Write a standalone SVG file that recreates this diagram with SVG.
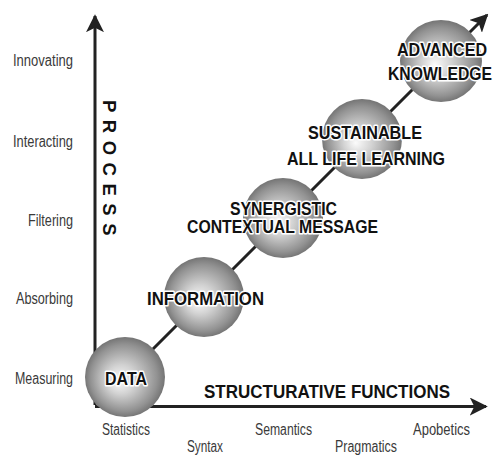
<svg xmlns="http://www.w3.org/2000/svg" width="495" height="455" viewBox="0 0 495 455">
<style>
.ax{stroke:#222;stroke-width:3;fill:none}
.lbl{font-family:"Liberation Sans",Arial,sans-serif;font-size:16px;fill:#3a3a3a}
.nt{font-family:"Liberation Sans",Arial,sans-serif;font-weight:bold;font-size:18.5px;fill:#111;stroke:#fff;stroke-width:3;paint-order:stroke;stroke-linejoin:round}
.ttl{font-family:"Liberation Sans",Arial,sans-serif;font-weight:bold;font-size:18.5px;fill:#111}
.sph{fill:url(#g)}
</style>
<defs>
<radialGradient id="g" cx="50%" cy="50%" r="52%" fx="42%" fy="55%">
<stop offset="0" stop-color="#fbfbfb"/>
<stop offset="0.35" stop-color="#d2d2d2"/>
<stop offset="0.8" stop-color="#929292"/>
<stop offset="1" stop-color="#6e6e6e"/>
</radialGradient>
<marker id="ah" viewBox="0 0 10 10" refX="9" refY="5" markerWidth="6" markerHeight="6" markerUnits="strokeWidth" orient="auto">
<path d="M0,0 L10,5 L0,10 L2.5,5 Z" fill="#222"/>
</marker>
</defs>
<g id="connectors">
<line class="ax" x1="95" y1="405" x2="95" y2="16" marker-end="url(#ah)"/>
<line class="ax" x1="95" y1="406.5" x2="486" y2="406.5" marker-end="url(#ah)"/>
<line class="ax" x1="125" y1="377" x2="487" y2="15" marker-end="url(#ah)"/>
</g>
<g id="axis-labels">
<text class="lbl" x="13" y="66" textLength="60" lengthAdjust="spacingAndGlyphs">Innovating</text>
<text class="lbl" x="13" y="147" textLength="60" lengthAdjust="spacingAndGlyphs">Interacting</text>
<text class="lbl" x="28" y="226" textLength="45" lengthAdjust="spacingAndGlyphs">Filtering</text>
<text class="lbl" x="16" y="304" textLength="57" lengthAdjust="spacingAndGlyphs">Absorbing</text>
<text class="lbl" x="15" y="384" textLength="58" lengthAdjust="spacingAndGlyphs">Measuring</text>
<text class="lbl" x="102" y="435" textLength="48" lengthAdjust="spacingAndGlyphs">Statistics</text>
<text class="lbl" x="187" y="452" textLength="36" lengthAdjust="spacingAndGlyphs">Syntax</text>
<text class="lbl" x="255" y="435" textLength="57" lengthAdjust="spacingAndGlyphs">Semantics</text>
<text class="lbl" x="335" y="452" textLength="62" lengthAdjust="spacingAndGlyphs">Pragmatics</text>
<text class="lbl" x="413" y="435" textLength="57" lengthAdjust="spacingAndGlyphs">Apobetics</text>
<text class="ttl" x="204" y="398" textLength="246" lengthAdjust="spacingAndGlyphs">STRUCTURATIVE FUNCTIONS</text>
<text class="ttl" transform="translate(103,100) rotate(90)" font-size="16" letter-spacing="7.5">PROCESS</text>
</g>
<g id="data">
<circle class="sph" cx="125" cy="377" r="40"/>
<text class="nt" x="105" y="385" textLength="42" lengthAdjust="spacingAndGlyphs">DATA</text>
</g>
<g id="information">
<circle class="sph" cx="204" cy="297" r="40"/>
<text class="nt" x="147" y="305" textLength="117" lengthAdjust="spacingAndGlyphs">INFORMATION</text>
</g>
<g id="synergistic">
<circle class="sph" cx="283" cy="218" r="40"/>
<text class="nt" x="230" y="215" textLength="107" lengthAdjust="spacingAndGlyphs">SYNERGISTIC</text>
<text class="nt" x="187" y="233" textLength="191" lengthAdjust="spacingAndGlyphs">CONTEXTUAL MESSAGE</text>
</g>
<g id="sustainable">
<circle class="sph" cx="362" cy="139" r="40"/>
<text class="nt" x="308" y="139" textLength="114" lengthAdjust="spacingAndGlyphs">SUSTAINABLE</text>
<text class="nt" x="287" y="165" textLength="158" lengthAdjust="spacingAndGlyphs">ALL LIFE LEARNING</text>
</g>
<g id="advanced">
<circle class="sph" cx="441" cy="61" r="41"/>
<text class="nt" x="397" y="56" textLength="90" lengthAdjust="spacingAndGlyphs">ADVANCED</text>
<text class="nt" x="388" y="80" textLength="104" lengthAdjust="spacingAndGlyphs">KNOWLEDGE</text>
</g>
</svg>
